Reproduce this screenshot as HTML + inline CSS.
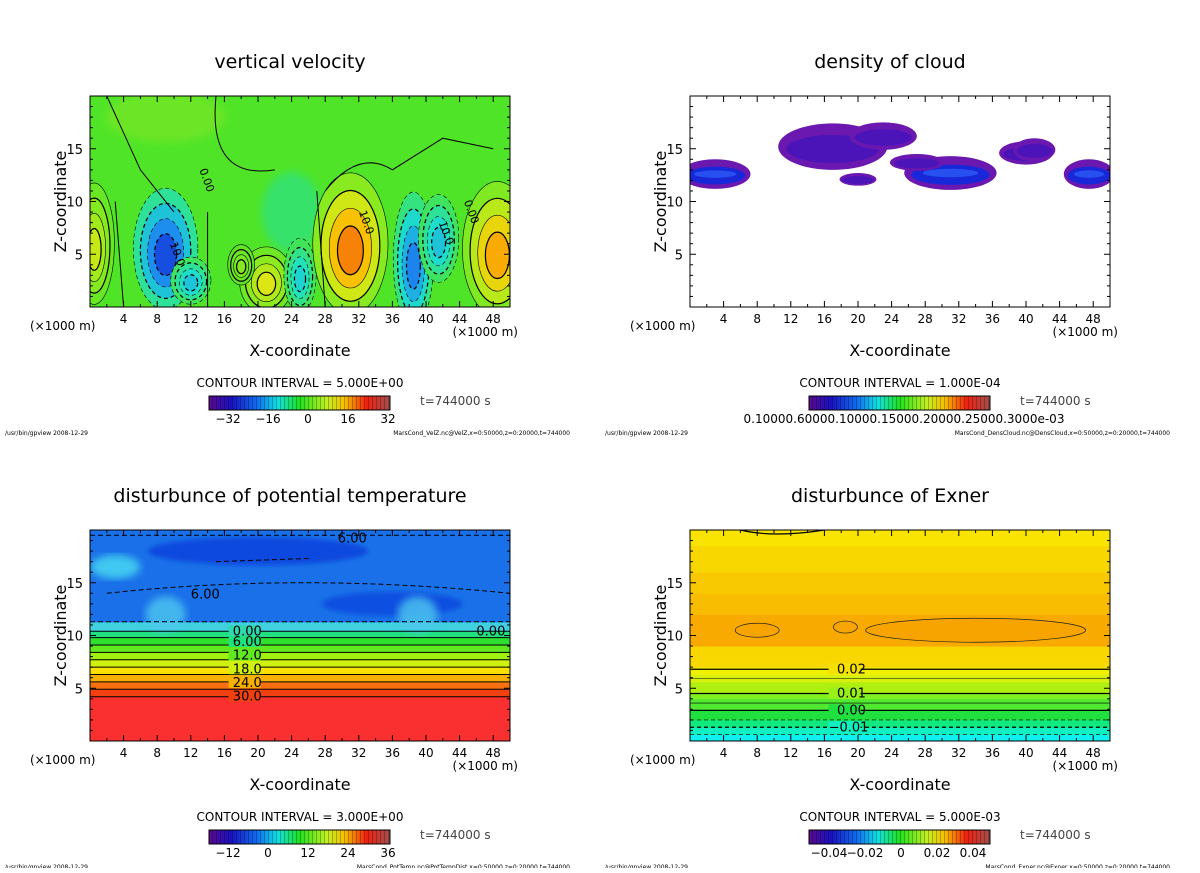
<!DOCTYPE html>
<html><head><meta charset="utf-8"><style>
body{margin:0;background:#fff;width:1200px;height:868px;overflow:hidden;font-family:"Liberation Sans","DejaVu Sans",sans-serif}
svg text{font-family:"DejaVu Sans","Liberation Sans",sans-serif}
</style></head><body>
<svg id="fig" width="1200" height="868" viewBox="0 0 1200 868" xmlns="http://www.w3.org/2000/svg">
<defs>
<linearGradient id="cbar" x1="0" x2="1" y1="0" y2="0">
<stop offset="0" stop-color="#5a0a8a"/><stop offset="0.12" stop-color="#1a10c0"/><stop offset="0.27" stop-color="#1070f0"/>
<stop offset="0.38" stop-color="#10e0e0"/><stop offset="0.5" stop-color="#20e020"/><stop offset="0.65" stop-color="#c0f020"/>
<stop offset="0.75" stop-color="#f8c000"/><stop offset="0.87" stop-color="#f02010"/><stop offset="1" stop-color="#a05050"/>
</linearGradient>
<pattern id="stripes" width="4" height="20" patternUnits="userSpaceOnUse"><rect x="0" y="0" width="1" height="20" fill="rgba(0,0,0,0.25)"/></pattern>
<filter id="blur4"><feGaussianBlur stdDeviation="4"/></filter>
<filter id="blur2"><feGaussianBlur stdDeviation="2"/></filter>
<clipPath id="c1"><rect x="90" y="96" width="420" height="211"/></clipPath>
<clipPath id="c2"><rect x="690" y="96" width="420" height="211"/></clipPath>
<clipPath id="c3"><rect x="90" y="530" width="420" height="211"/></clipPath>
<clipPath id="c4"><rect x="690" y="530" width="420" height="211"/></clipPath>
</defs>
</svg>
<script>
// ---- data ----
const xTicks=[4,8,12,16,20,24,28,32,36,40,44,48];
const zTicks=[5,10,15];
const titles=["vertical velocity","density of cloud","disturbunce of potential temperature","disturbunce of Exner"];
const intervals=["CONTOUR INTERVAL = 5.000E+00","CONTOUR INTERVAL = 1.000E-04","CONTOUR INTERVAL = 3.000E+00","CONTOUR INTERVAL = 5.000E-03"];
const cbLabels=[["−32","−16","0","16","32"],["0.10000.60000.10000.15000.20000.25000.3000e-03"],["−12","0","12","24","36"],["−0.04","−0.02","0","0.02","0.04"]];
const footers=["MarsCond_VelZ.nc@VelZ,x=0:50000,z=0:20000,t=744000","MarsCond_DensCloud.nc@DensCloud,x=0:50000,z=0:20000,t=744000","MarsCond_PotTemp.nc@PotTempDist,x=0:50000,z=0:20000,t=744000","MarsCond_Exner.nc@Exner,x=0:50000,z=0:20000,t=744000"];
// vertical velocity blobs: x(km), z(km), rx, rz, value
const wX=[9,12,21,25,31,38.5,41.5,48.5,0.5,18];
const wZ=[5.5,2.5,2.5,3,6,4.5,6.5,5.5,6,4];
const wRx=[2.4,1.5,2,1.2,2.8,1.5,1.5,2.6,1.5,1];
const wRz=[3.6,1.4,2,2.2,4.2,4,2.6,4,3.6,1.2];
const wVal=[-28,-14,14,-12,26,-22,-14,22,12,6];
// cloud blobs
const cX=[3,17,23,20,31,40,47.5,41,27];
const cZ=[12.6,15.2,16.2,12.1,12.7,14.6,12.6,14.9,13.7];
const cRx=[4.2,6.5,4,2.2,5.5,3.2,3,2.5,3.2];
const cRz=[1.4,2.2,1.3,0.6,1.6,1.1,1.4,1.1,0.8];
const cVal=[3,1,1.2,1.5,2.5,1.3,3,1,0.8];
// pot temp band boundaries (z km) and values
const ptZ=[0,4.2,4.9,5.6,6.3,7.0,7.7,8.4,9.1,9.8,10.4,11.3,20];
const ptVal=[33,30,27,24,21,18,15,12,9,6,2,-4];
const ptLabels=[["0.00",10.4],["6.00",9.4],["12.0",8.1],["18.0",6.8],["24.0",5.5],["30.0",4.2]];
// exner band boundaries and values
const exZ=[0,0.6,1.3,2,3,4,4.6,5.6,6.3,7,8,9,12,14,16,18.5,20];
const exVal=[-0.015,-0.01,-0.005,0,0.004,0.008,0.012,0.015,0.018,0.021,0.025,0.033,0.029,0.027,0.025,0.023];
const exLabels=[["0.02",6.8],["0.01",4.5],["0.00",2.9],["−0.01",1.3]];

const NS="http://www.w3.org/2000/svg";
const svg=document.getElementById('fig');
function el(tag,attrs,parent){const e=document.createElementNS(NS,tag);for(const k in attrs)e.setAttribute(k,attrs[k]);(parent||svg).appendChild(e);return e;}
const panels=[{x:90,y:96},{x:690,y:96},{x:90,y:530},{x:690,y:530}];
const W=420,H=211;
function sx(p,v){return p.x+v/50*W;}
function sz(p,v){return p.y+H-v/20*H;}
function rgb(a){return 'rgb('+a.map(Math.round).join(',')+')';}
function interp(stops,v){if(v<=stops[0][0])return rgb(stops[0][1]);for(let i=1;i<stops.length;i++){if(v<=stops[i][0]){const a=stops[i-1],b=stops[i],t=(v-a[0])/(b[0]-a[0]);return rgb(a[1].map((c,j)=>c+(b[1][j]-c)*t));}}return rgb(stops[stops.length-1][1]);}
const wStops=[[-30,[20,60,220]],[-20,[30,150,240]],[-10,[30,225,200]],[0,[80,228,40]],[8,[150,235,30]],[14,[220,230,20]],[20,[250,190,0]],[28,[245,110,10]]];
const ptStops=[[-4,[26,112,232]],[2,[64,208,224]],[6,[32,224,128]],[9,[48,224,48]],[12,[96,232,32]],[15,[160,240,16]],[18,[208,240,16]],[21,[248,224,0]],[24,[248,176,0]],[27,[248,112,16]],[30,[240,64,16]],[33,[250,47,47]]];
const exStops=[[-0.015,[16,240,240]],[-0.01,[16,240,192]],[-0.005,[16,232,128]],[0,[32,224,64]],[0.004,[80,232,48]],[0.008,[128,240,32]],[0.012,[176,240,16]],[0.015,[216,240,16]],[0.018,[240,240,0]],[0.021,[248,216,0]],[0.023,[248,228,0]],[0.027,[248,200,0]],[0.029,[248,188,0]],[0.033,[248,170,0]]];

// panel 1
{const p=panels[0];const g=el('g',{'clip-path':'url(#c1)'});
el('rect',{x:p.x,y:p.y,width:W,height:H,fill:'rgb(80,228,40)'},g);
el('ellipse',{cx:sx(p,9),cy:sz(p,18),rx:60,ry:25,fill:'rgb(120,230,40)',filter:'url(#blur4)',opacity:0.7},g);
el('ellipse',{cx:sx(p,24),cy:sz(p,9),rx:30,ry:40,fill:'rgb(40,225,150)',filter:'url(#blur4)',opacity:0.6},g);
for(let i=0;i<wX.length;i++){const cx=sx(p,wX[i]),cy=sz(p,wZ[i]),rx=wRx[i]/50*W,ry=wRz[i]/20*H;
 for(let k=1;k<=4;k++){const v=wVal[i]*k/4;const f=1.6-0.35*(k-1);const e=el('ellipse',{cx:cx,cy:cy+(k-1)*0.05*ry,rx:rx*f,ry:ry*f,fill:interp(wStops,v),stroke:'#000','stroke-width':k%2?0.6:1.2,'stroke-dasharray':wVal[i]<0?'4,3':'none'},g);
 }}
el('path',{d:'M'+sx(p,2)+' '+sz(p,20)+' L'+sx(p,6)+' '+sz(p,13)+' L'+sx(p,10)+' '+sz(p,9)+' M'+sx(p,15)+' '+sz(p,20)+' Q'+sx(p,14)+' '+sz(p,12)+' '+sx(p,22)+' '+sz(p,13)+' M'+sx(p,28)+' '+sz(p,11)+' Q'+sx(p,32)+' '+sz(p,15)+' '+sx(p,36)+' '+sz(p,13)+' L'+sx(p,42)+' '+sz(p,16)+' L'+sx(p,48)+' '+sz(p,15)+' M'+sx(p,14)+' '+sz(p,0)+' L'+sx(p,14)+' '+sz(p,9)+' M'+sx(p,28)+' '+sz(p,0)+' L'+sx(p,27)+' '+sz(p,11)+' M'+sx(p,4)+' '+sz(p,0)+' L'+sx(p,3)+' '+sz(p,10),fill:'none',stroke:'#000','stroke-width':1},g);
const lb=[["0.00",13,13],["10.0",32,9],["10.0",41.5,8],["0.00",44.5,10],["10.0",9.5,6]];
lb.forEach(l=>{const t=el('text',{x:sx(p,l[1]),y:sz(p,l[2]),'font-size':11,transform:'rotate(70 '+sx(p,l[1])+' '+sz(p,l[2])+')'},g);t.textContent=l[0];});
}
// panel 2
{const p=panels[1];const g=el('g',{'clip-path':'url(#c2)'});
for(let i=0;i<cX.length;i++){const cx=sx(p,cX[i]),cy=sz(p,cZ[i]),rx=cRx[i]/50*W,ry=cRz[i]/20*H;
 el('ellipse',{cx:cx,cy:cy,rx:rx,ry:ry,fill:'#6a18b0'},g);
 const e=el('ellipse',{cx:cx,cy:cy+ry*0.1,rx:rx*0.85,ry:ry*0.6,fill:cVal[i]>2?'#1828d8':'#4a14b8'},g);
 if(cVal[i]>2)el('ellipse',{cx:cx,cy:cy,rx:rx*0.6,ry:ry*0.25,fill:'#2850f0'},g);}
}
// panel 3
{const p=panels[2];const g=el('g',{'clip-path':'url(#c3)'});
for(let i=0;i<ptVal.length;i++){const y1=sz(p,ptZ[i+1]),y0=sz(p,ptZ[i]);
 const r=el('rect',{x:p.x,y:y1,width:W,height:y0-y1+0.5,fill:interp(ptStops,ptVal[i])},g);}
el('ellipse',{cx:sx(p,20),cy:sz(p,18),rx:110,ry:14,fill:'#0a48de',filter:'url(#blur2)'},g);
el('ellipse',{cx:sx(p,36),cy:sz(p,13),rx:70,ry:12,fill:'#0a50e0',filter:'url(#blur2)'},g);
el('ellipse',{cx:sx(p,3),cy:sz(p,16.5),rx:25,ry:12,fill:'#40c8f0',filter:'url(#blur4)'},g);
el('ellipse',{cx:sx(p,9),cy:sz(p,12),rx:20,ry:18,fill:'#50c8f0',filter:'url(#blur4)',opacity:0.8},g);
el('ellipse',{cx:sx(p,39),cy:sz(p,12),rx:20,ry:18,fill:'#50c8f0',filter:'url(#blur4)',opacity:0.8},g);
el('path',{d:'M'+p.x+' '+sz(p,11.3)+' L'+(p.x+W)+' '+sz(p,11.3)+' M'+p.x+' '+sz(p,19.5)+' L'+(p.x+W)+' '+sz(p,19.5)+' M'+sx(p,15)+' '+sz(p,17)+' L'+sx(p,26)+' '+sz(p,17.3)+' M'+sx(p,2)+' '+sz(p,14)+' Q'+sx(p,25)+' '+sz(p,16)+' '+sx(p,50)+' '+sz(p,14),fill:'none',stroke:'#000','stroke-dasharray':'5,3'},g);
for(let i=1;i<ptZ.length-2;i++)el('line',{x1:p.x,x2:p.x+W,y1:sz(p,ptZ[i]),y2:sz(p,ptZ[i]),stroke:'#000','stroke-width':1},g);
ptLabels.forEach(l=>{const y=sz(p,l[1])+4;const v=l[0]=="0.00"?4:parseFloat(l[0]);el('rect',{x:sx(p,16.5),y:y-10,width:32,height:11,fill:interp(ptStops,v)},g);const t=el('text',{x:sx(p,17),y:y,'font-size':13},g);t.textContent=l[0];});
const t1=el('text',{x:sx(p,12),y:sz(p,13.5),'font-size':13},g);t1.textContent='6.00';
const t2=el('text',{x:sx(p,29.5),y:sz(p,18.8),'font-size':13},g);t2.textContent='6.00';
const t3=el('text',{x:sx(p,46),y:sz(p,10.4)+4,'font-size':13},g);t3.textContent='0.00';
}
// panel 4
{const p=panels[3];const g=el('g',{'clip-path':'url(#c4)'});
for(let i=0;i<exVal.length;i++){const y1=sz(p,exZ[i+1]),y0=sz(p,exZ[i]);
 const r=el('rect',{x:p.x,y:y1,width:W,height:y0-y1+0.5,fill:interp(exStops,exVal[i])},g);}
[[6.8,1.2,''],[5.9,0.6,''],[4.5,1.2,''],[3.6,0.6,''],[2.9,1.2,''],[2,0.6,'4,3'],[1.3,1.2,'4,3'],[0.6,0.6,'4,3']].forEach(b=>el('line',{x1:p.x,x2:p.x+W,y1:sz(p,b[0]),y2:sz(p,b[0]),stroke:'#000','stroke-width':b[1],'stroke-dasharray':b[2]},g));
el('ellipse',{cx:sx(p,34),cy:sz(p,10.5),rx:110,ry:12,fill:'#f8a400',stroke:'#222','stroke-width':0.7},g);
el('ellipse',{cx:sx(p,8),cy:sz(p,10.5),rx:22,ry:7,fill:'#f8a400',stroke:'#222','stroke-width':0.7},g);
el('ellipse',{cx:sx(p,18.5),cy:sz(p,10.8),rx:12,ry:6,fill:'#f8a400',stroke:'#222','stroke-width':0.7},g);
el('path',{d:'M'+sx(p,6)+' '+p.y+' Q'+sx(p,10)+' '+(p.y+8)+' '+sx(p,16)+' '+p.y,fill:'none',stroke:'#000','stroke-width':1.2},g);
exLabels.forEach(l=>{const y=sz(p,l[1])+4;el('rect',{x:sx(p,16.5),y:y-10,width:32,height:11,fill:interp(exStops,parseFloat(l[0].replace('−','-')))},g);const t=el('text',{x:sx(p,l[0].length>4?16.5:17.5),y:y,'font-size':13},g);t.textContent=l[0];});
}
// axes & decorations
panels.forEach((p,i)=>{
 const f=el('rect',{x:p.x,y:p.y,width:W,height:H,fill:'none',stroke:'#000','stroke-width':1});
 for(let v=2;v<50;v+=2){const L=v%4==0?6:3;el('line',{x1:sx(p,v),x2:sx(p,v),y1:p.y+H,y2:p.y+H-L,stroke:'#000'});el('line',{x1:sx(p,v),x2:sx(p,v),y1:p.y,y2:p.y+L,stroke:'#000'});}
 for(let v=1;v<20;v++){const L=v%5==0?6:3;el('line',{y1:sz(p,v),y2:sz(p,v),x1:p.x,x2:p.x+L,stroke:'#000'});el('line',{y1:sz(p,v),y2:sz(p,v),x1:p.x+W,x2:p.x+W-L,stroke:'#000'});}
 xTicks.forEach(v=>{const t=el('text',{x:sx(p,v),y:p.y+H+16,'font-size':12,'text-anchor':'middle'});t.textContent=v;});
 zTicks.forEach(v=>{const t=el('text',{x:p.x-7,y:sz(p,v)+5,'font-size':13,'text-anchor':'end'});t.textContent=v;});
 let t=el('text',{x:p.x-60,y:p.y+H+23,'font-size':12});t.textContent='(×1000 m)';
 t=el('text',{x:p.x+W+8,y:p.y+H+29,'font-size':12,'text-anchor':'end'});t.textContent='(×1000 m)';
 t=el('text',{x:p.x+W/2,y:p.y+H+49,'font-size':16,'text-anchor':'middle'});t.textContent='X-coordinate';
 t=el('text',{x:p.x-24,y:p.y+H/2,'font-size':16,'text-anchor':'middle',transform:'rotate(-90 '+(p.x-24)+' '+(p.y+H/2)+')'});t.textContent='Z-coordinate';
 t=el('text',{x:p.x+W/2-10,y:p.y-28,'font-size':19,'text-anchor':'middle'});t.textContent=titles[i];
 t=el('text',{x:p.x+210,y:p.y+H+80,'font-size':12,'text-anchor':'middle'});t.textContent=intervals[i];
 const cb=el('rect',{x:p.x+119,y:p.y+H+89,width:181,height:14,fill:'url(#cbar)'});
 el('rect',{x:p.x+119,y:p.y+H+89,width:181,height:14,fill:'url(#stripes)',stroke:'#000','stroke-width':1});
 const lbls=cbLabels[i];
 if(lbls.length==1){t=el('text',{x:p.x+214,y:p.y+H+116,'font-size':12,'text-anchor':'middle'});t.textContent=lbls[0];}
 else lbls.forEach((s,k)=>{t=el('text',{x:p.x+138+k*(i==3?36:40)-(i==3?-1:0),y:p.y+H+116,'font-size':12,'text-anchor':'middle'});t.textContent=s;});
 t=el('text',{x:p.x+330,y:p.y+H+98,'font-size':12,fill:'#444'});t.textContent='t=744000 s';
 t=el('text',{x:p.x-85,y:p.y+H+128,'font-size':6});t.textContent='/usr/bin/gpview  2008-12-29';
 t=el('text',{x:p.x+480,y:p.y+H+128,'font-size':6,'text-anchor':'end'});t.textContent=footers[i];
});
</script>
</body></html>
